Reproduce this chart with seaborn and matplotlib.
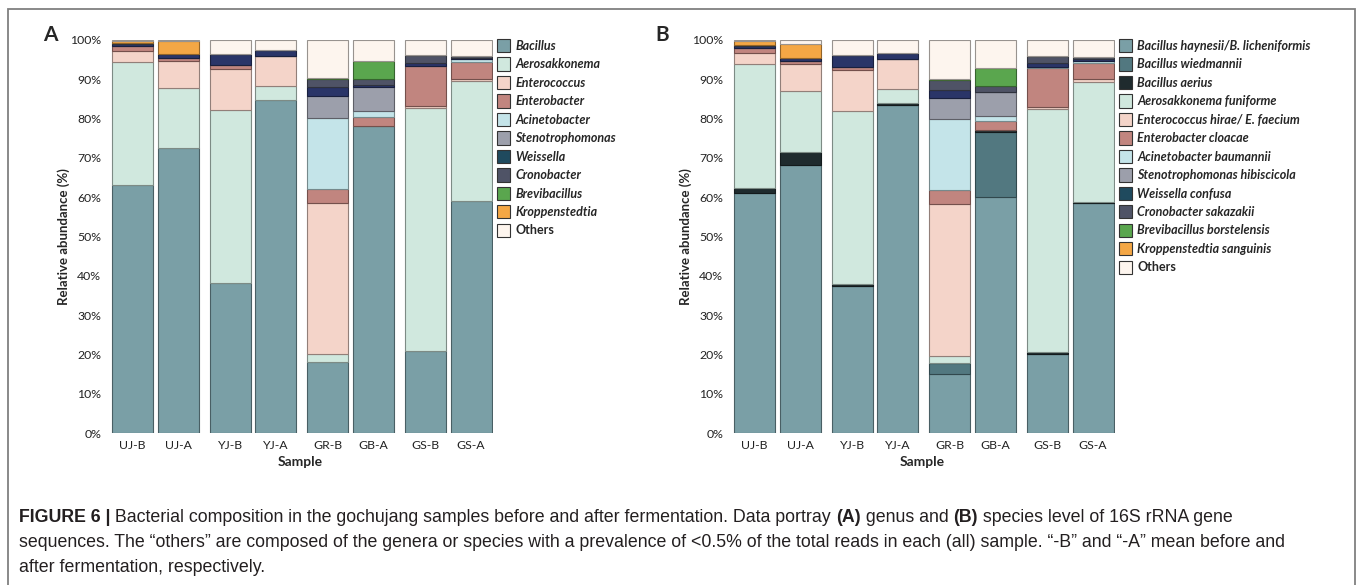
import numpy as np
import matplotlib
matplotlib.use("Agg")
import matplotlib.pyplot as plt
from matplotlib.patches import Patch, Rectangle
import seaborn as sns

# amostras (antes / depois da fermentacao)
samples = ["UJ-B", "UJ-A", "YJ-B", "YJ-A", "GR-B", "GB-A", "GS-B", "GS-A"]

# painel A - genero (%)
genus_names = ["Bacillus", "Aerosakkonema", "Enterococcus", "Enterobacter",
               "Acinetobacter", "Stenotrophomonas", "Weissella", "Cronobacter",
               "Brevibacillus", "Kroppenstedtia", "Others"]
g_bacillus = [63.0, 72.4, 38.2, 84.7, 18.1, 78.2, 20.9, 59.1]
g_aerosakkonema = [31.4, 15.3, 44.0, 3.6, 2.0, 0.0, 61.7, 30.5]
g_enterococcus = [2.7, 7.0, 10.4, 7.6, 38.3, 0.0, 0.5, 0.6]
g_enterobacter = [1.4, 0.8, 1.0, 0.0, 3.7, 2.3, 10.4, 4.1]
g_acinetobacter = [0.0, 0.0, 0.0, 0.0, 18.1, 1.5, 0.0, 0.8]
g_stenotrophomonas = [0.0, 0.0, 0.0, 0.0, 5.6, 6.1, 0.0, 0.0]
g_weissella = [0.5, 0.9, 2.8, 1.5, 2.2, 0.4, 0.6, 0.3]
g_cronobacter = [0.3, 0.0, 0.0, 0.0, 2.1, 1.5, 2.0, 0.6]
g_brevibacillus = [0.0, 0.0, 0.0, 0.0, 0.3, 4.7, 0.0, 0.0]
g_kroppenstedtia = [0.5, 3.4, 0.0, 0.0, 0.0, 0.0, 0.0, 0.0]
g_others = [0.2, 0.2, 3.6, 2.6, 9.6, 5.3, 3.9, 4.0]

# painel B - especie (%)
species_names = ["Bacillus haynesii/B. licheniformis", "Bacillus wiedmannii",
                 "Bacillus aerius", "Aerosakkonema funiforme",
                 "Enterococcus hirae/ E. faecium", "Enterobacter cloacae",
                 "Acinetobacter baumannii", "Stenotrophomonas hibiscicola",
                 "Weissella confusa", "Cronobacter sakazakii",
                 "Brevibacillus borstelensis", "Kroppenstedtia sanguinis", "Others"]
s_haynesii = [61.0, 68.2, 37.5, 83.4, 15.0, 60.1, 20.1, 58.4]
s_wiedmannii = [0.0, 0.0, 0.0, 0.0, 2.9, 16.6, 0.0, 0.0]
s_aerius = [1.4, 3.4, 0.4, 0.6, 0.0, 0.5, 0.6, 0.5]
s_funiforme = [31.5, 15.4, 44.0, 3.5, 1.8, 0.0, 61.7, 30.5]
s_hirae = [2.7, 6.8, 10.5, 7.7, 38.5, 0.0, 0.5, 0.7]
s_cloacae = [1.4, 0.8, 0.8, 0.0, 3.6, 2.2, 9.9, 4.0]
s_baumannii = [0.0, 0.0, 0.0, 0.0, 18.0, 1.2, 0.4, 0.6]
s_hibiscicola = [0.0, 0.0, 0.0, 0.0, 5.5, 6.1, 0.0, 0.0]
s_confusa = [0.4, 0.7, 3.0, 1.6, 2.1, 0.0, 0.9, 0.4]
s_sakazakii = [0.4, 0.0, 0.0, 0.0, 2.4, 1.7, 1.8, 0.7]
s_borstelensis = [0.0, 0.0, 0.0, 0.0, 0.2, 4.5, 0.0, 0.0]
s_sanguinis = [0.9, 3.7, 0.0, 0.0, 0.0, 0.0, 0.0, 0.0]
s_others = [0.3, 1.0, 3.8, 3.2, 10.0, 7.1, 4.1, 4.2]

genus_data = [g_bacillus, g_aerosakkonema, g_enterococcus, g_enterobacter,
              g_acinetobacter, g_stenotrophomonas, g_weissella, g_cronobacter,
              g_brevibacillus, g_kroppenstedtia, g_others]
species_data = [s_haynesii, s_wiedmannii, s_aerius, s_funiforme, s_hirae,
                s_cloacae, s_baumannii, s_hibiscicola, s_confusa, s_sakazakii,
                s_borstelensis, s_sanguinis, s_others]

# cores (barras / legenda)
genus_colors = ["#7a9fa6", "#d0e8de", "#f4d4c9", "#c1857f", "#c4e4e9", "#9c9fab",
                "#2a3568", "#4f5366", "#5aa64e", "#f4a745", "#fdf5ee"]
genus_legend = genus_colors.copy()
genus_legend[6] = "#1f4a5e"
species_colors = ["#7a9fa6", "#527880", "#1f2b2e", "#d0e8de", "#f4d4c9", "#c1857f",
                  "#c4e4e9", "#9c9fab", "#2a3568", "#4f5366", "#5aa64e", "#f4a745",
                  "#fdf5ee"]
species_legend = species_colors.copy()
species_legend[8] = "#1f4a5e"

sns.set_theme(style="white")
plt.rcParams['font.family'] = ['Lato', 'DejaVu Sans']

fig = plt.figure(figsize=(13.6, 5.85), dpi=100)
W, H = 1360, 585

# posicoes das barras (pares)
pos = np.array([g * 2.38 + m * 1.115 for g in range(4) for m in range(2)])


def escurecer(c, f=0.6):
    r, g, b = matplotlib.colors.to_rgb(c)
    return (r * f, g * f, b * f)


def painel(left_px, dados, cores, nomes, leg_cores, leg_x):
    ax = fig.add_axes([left_px / W, (H - 433) / H, 385 / W, 393 / H])
    base = np.zeros(len(samples))
    for vals, cor in zip(dados, cores):
        vals = np.array(vals)
        ax.bar(pos, vals, width=1.0, bottom=base, color=cor,
               edgecolor=escurecer(cor), linewidth=0.8)
        base += vals
    ax.set_xlim(-0.6, 8.79)
    ax.set_ylim(0, 100)
    ax.set_xticks(pos)
    ax.set_xticklabels(samples, fontsize=8.8)
    ax.set_yticks(range(0, 101, 10))
    ax.set_yticklabels([f"{v}%" for v in range(0, 101, 10)], fontsize=8.8)
    ax.tick_params(axis='both', length=0, pad=5, colors='#222222')
    ax.set_xlabel("Sample", fontsize=10, fontweight='bold', labelpad=4)
    ax.set_ylabel("Relative abundance (%)", fontsize=9.5, fontweight='bold', labelpad=0)
    sns.despine(ax=ax, left=True, bottom=True)
    handles = [Patch(facecolor=c, edgecolor='#333333', linewidth=0.8) for c in leg_cores]
    leg = ax.legend(handles, nomes, loc='upper left', bbox_to_anchor=(leg_x / W, 1 - 39 / H),
                    bbox_transform=fig.transFigure, frameon=False, fontsize=9,
                    handlelength=1.05, handleheight=1.25, labelspacing=0.42,
                    handletextpad=0.4, borderpad=0, borderaxespad=0)
    for t in leg.get_texts():
        if t.get_text() != "Others":
            t.set_fontstyle('italic')
        t.set_fontweight('bold')
    return ax


painel(108, genus_data, genus_colors, genus_names, genus_legend, 497)
painel(730, species_data, species_colors, species_names, species_legend, 1119)

fig.text(50 / W, 1 - 35 / H, "A", fontsize=15, fontweight='bold', ha='center', va='center')
fig.text(662 / W, 1 - 35 / H, "B", fontsize=15, fontweight='bold', ha='center', va='center')

# moldura da figura
fig.patches.append(Rectangle((8 / W, -0.1), (1355 - 8) / W, 1.1 - 9.5 / H,
                             transform=fig.transFigure, fill=False,
                             edgecolor='#808080', linewidth=1.3))

# legenda (caption) com partes em negrito
cap_font = ['Liberation Sans', 'DejaVu Sans']
linhas = [
    [("FIGURE 6 |", 'bold'), (" Bacterial composition in the gochujang samples before and after fermentation. Data portray ", 'normal'),
     ("(A)", 'bold'), (" genus and ", 'normal'), ("(B)", 'bold'), (" species level of 16S rRNA gene", 'normal')],
    [("sequences. The \u201cothers\u201d are composed of the genera or species with a prevalence of <0.5% of the total reads in each (all) sample. \u201c-B\u201d and \u201c-A\u201d mean before and", 'normal')],
    [("after fermentation, respectively.", 'normal')],
]
renderer = fig.canvas.get_renderer()
for i, partes in enumerate(linhas):
    x = 19 / W
    y = 1 - (517 + i * 25.5) / H
    for txt, peso in partes:
        t = fig.text(x, y, txt, fontsize=12.8, fontweight=peso, family=cap_font,
                     va='center', ha='left', color='#231f20')
        bb = t.get_window_extent(renderer)
        x += bb.width / W

fig.savefig("out.png", dpi=100)
